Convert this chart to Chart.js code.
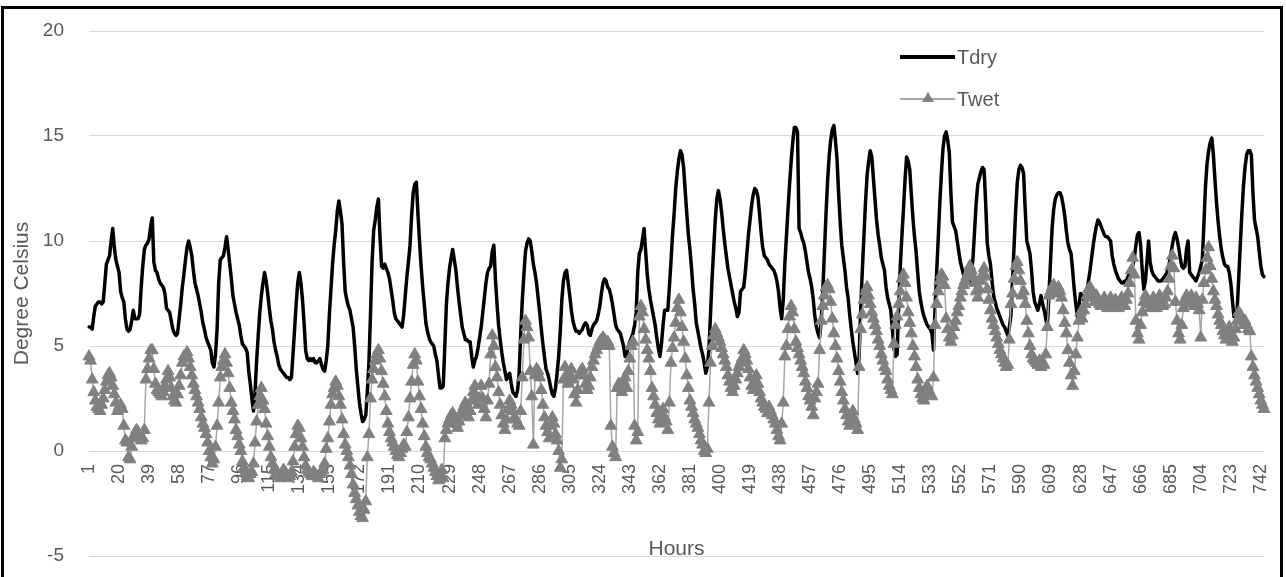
<!DOCTYPE html>
<html>
<head>
<meta charset="utf-8">
<script src="https://cdn.jsdelivr.net/npm/chart.js@4.4.0/dist/chart.umd.min.js"></script>
<style>
  html, body { margin: 0; padding: 0; background: #fff; }
  #wrap { position: relative; width: 1286px; height: 577px; overflow: hidden;
          font-family: 'Liberation Sans', Arial, sans-serif; color: #595959; }
  #frame { position: absolute; left: 1px; top: 6px; width: 1282px; height: 620px;
           border: 3px solid #000; box-sizing: border-box; pointer-events: none; }
  canvas { position: absolute; left: 0; top: 0; }
  .txt { position: absolute; font-size: 20px; line-height: 22px; white-space: nowrap; }
  .swatch { position: absolute; }
</style>
</head>
<body>
<div id="wrap">
  <canvas id="chart" width="1286" height="577"></canvas>

  <!-- legend, drawn inside the plot like the original -->
  <div class="swatch" style="left:900px; top:55px; width:55px; height:4px; background:#000;"></div>
  <div class="txt" style="left:957px; top:46px;">Tdry</div>
  <div class="swatch" style="left:900px; top:98px; width:55px; height:2px; background:#a6a6a6;"></div>
  <div class="swatch" style="left:922px; top:92px; width:0; height:0; border-left:6px solid transparent; border-right:6px solid transparent; border-bottom:10px solid #808080;"></div>
  <div class="txt" style="left:957px; top:88px;">Twet</div>

  <div class="txt" style="left:89px; width:1175px; top:537px; text-align:center; font-size:21px;">Hours</div>
  <div id="frame"></div>
</div>

<script>
const corTexto = '#595959';
const corGrade = '#d9d9d9';
const invisivel = 'rgba(0,0,0,0)';

// eixo x: horas do mês
const hours = Array.from({ length: 744 }, (_, i) => String(i + 1));
const labelEvery = 19;
const yTicks = [-5, 0, 5, 10, 15, 20];

// temperatura seca (uma linha por dia)
const tdry = [
  5.9,5.9,5.8,6.4,6.9,7.0,7.1,7.1,7.0,7.1,8.0,8.9,9.1,9.3,10.0,10.6,9.7,9.1,8.8,8.5,7.6,7.3,7.1,6.3,
  5.8,5.7,5.8,6.2,6.7,6.3,6.3,6.3,6.5,7.8,8.8,9.6,9.8,9.9,10.1,10.7,11.1,9.0,8.6,8.5,8.2,8.0,7.9,7.8,
  7.5,6.8,6.7,6.6,6.2,5.8,5.6,5.5,5.6,6.3,7.0,7.8,8.4,9.1,9.7,10.0,9.7,9.3,8.6,8.0,7.7,7.4,7.0,6.6,
  6.1,5.8,5.4,5.2,5.0,4.8,4.2,4.0,4.6,5.8,8.0,9.1,9.2,9.3,9.7,10.2,9.6,8.9,8.2,7.4,7.0,6.6,6.3,6.0,
  5.5,5.1,5.0,4.9,4.7,3.8,3.2,2.5,1.9,2.8,4.3,5.5,6.6,7.4,8.0,8.5,8.1,7.5,6.8,6.2,5.8,5.2,4.8,4.5,
  4.1,3.9,3.8,3.7,3.6,3.5,3.5,3.4,3.5,4.6,5.8,7.0,8.0,8.5,8.0,7.2,6.1,4.8,4.4,4.3,4.4,4.3,4.4,4.2,
  4.2,4.3,4.4,4.1,3.9,3.8,4.3,5.0,6.5,7.7,8.9,9.8,10.5,11.4,11.9,11.4,10.8,9.0,7.6,7.2,6.9,6.7,6.3,5.9,
  5.0,3.9,3.1,2.3,1.8,1.4,1.5,1.7,2.8,4.2,6.5,9.0,10.5,11.0,11.6,12.0,10.2,8.8,8.7,8.9,8.7,8.5,8.2,7.7,
  7.2,6.6,6.3,6.2,6.1,6.0,5.9,6.5,7.4,8.3,9.0,9.8,11.2,12.3,12.7,12.8,11.3,10.0,8.8,7.8,7.0,6.1,5.7,5.4,
  5.2,5.1,5.0,4.6,4.3,3.6,3.0,3.0,3.1,5.0,7.0,8.0,8.7,9.2,9.6,9.1,8.6,7.8,7.1,6.5,5.9,5.6,5.3,5.3,
  5.2,5.2,4.5,4.0,4.3,4.5,4.9,5.4,5.9,6.6,7.3,8.0,8.5,8.7,8.8,9.5,9.8,8.2,7.0,6.0,5.3,4.7,4.2,3.8,
  3.4,3.6,3.7,3.2,2.8,2.7,2.6,2.9,3.7,5.6,7.2,8.4,9.5,9.9,10.1,10.0,9.5,8.9,8.5,8.0,7.3,6.6,5.8,5.1,
  4.5,3.9,3.7,3.4,3.0,2.7,2.6,3.0,3.7,4.5,5.7,7.2,8.1,8.5,8.6,8.0,7.4,6.7,6.2,5.9,5.7,5.7,5.6,5.7,
  5.8,6.0,6.1,6.0,5.6,5.5,5.8,6.0,6.1,6.2,6.5,6.9,7.5,8.0,8.2,8.1,7.8,7.7,7.4,7.0,6.5,6.0,5.8,5.7,
  5.6,5.3,5.0,4.5,4.6,5.0,5.2,5.4,5.6,6.0,6.6,8.5,9.4,9.6,10.1,10.6,9.5,8.4,7.7,7.2,6.8,6.4,6.0,5.4,
  4.9,4.5,5.1,6.0,6.7,6.7,6.7,7.8,9.0,10.3,11.3,12.5,13.3,13.9,14.3,14.1,13.5,12.4,11.3,10.3,9.6,8.7,7.7,7.0,
  6.1,5.7,5.3,4.9,4.6,4.2,3.7,4.0,4.8,6.5,8.2,9.6,11.0,12.0,12.4,12.0,11.4,10.6,9.9,9.3,8.7,8.3,7.9,7.5,
  7.1,6.8,6.4,6.6,7.6,7.7,7.8,8.5,9.4,10.3,11.0,11.7,12.2,12.5,12.4,12.1,11.3,10.4,9.7,9.3,9.2,9.1,8.9,8.8,
  8.7,8.6,8.4,8.1,7.6,6.8,6.3,7.2,8.9,10.2,11.5,12.7,13.8,14.7,15.4,15.4,15.2,10.6,10.4,10.1,9.9,9.5,9.0,8.5,
  8.2,7.8,7.2,6.4,5.9,5.6,5.4,6.2,7.6,9.4,11.2,12.8,14.0,14.8,15.3,15.5,14.8,13.9,12.3,10.9,9.8,9.2,8.6,7.8,
  7.3,6.5,5.8,5.2,4.7,4.2,3.7,4.5,6.8,8.6,10.2,11.8,13.1,13.8,14.3,14.0,13.0,12.0,11.0,10.3,9.8,9.2,8.9,8.6,
  7.8,7.3,7.0,6.7,5.8,4.9,4.5,4.6,6.9,8.8,10.2,11.5,12.9,14.0,13.8,13.4,12.2,11.1,10.2,9.5,8.5,7.6,7.1,6.7,
  6.4,6.2,6.0,5.9,5.8,5.6,4.8,6.8,8.5,10.1,11.8,13.2,14.4,15.0,15.2,14.8,14.2,12.3,10.9,10.7,10.5,10.0,9.5,9.0,
  8.7,8.4,8.1,8.0,8.0,8.1,8.5,9.2,10.5,11.8,12.7,13.0,13.3,13.5,13.4,11.8,9.9,9.3,8.9,8.1,7.4,7.1,6.8,6.6,
  6.4,6.2,6.0,5.9,5.7,5.5,5.9,6.5,8.2,9.8,11.5,12.8,13.4,13.6,13.5,13.2,11.5,10.0,9.7,9.4,8.6,7.6,7.1,6.9,
  6.7,7.0,7.4,7.0,6.7,6.3,5.9,7.4,9.0,10.6,11.5,12.0,12.2,12.3,12.3,12.1,11.7,11.2,10.5,9.9,9.6,9.4,8.6,7.7,
  7.0,6.4,6.9,7.5,7.4,7.2,7.1,7.5,8.1,8.6,9.2,9.8,10.3,10.7,11.0,10.9,10.7,10.5,10.3,10.2,10.2,10.1,10.0,9.3,
  8.9,8.6,8.4,8.2,8.1,8.0,8.0,8.1,8.1,8.3,8.5,8.6,8.8,9.2,9.8,10.3,10.4,9.8,8.6,7.7,8.1,9.0,10.0,9.0,
  8.6,8.4,8.3,8.2,8.1,8.1,8.1,8.2,8.3,8.4,8.6,8.9,9.3,9.8,10.2,10.4,10.1,9.7,9.2,8.8,8.7,8.8,9.6,10.0,
  8.5,8.4,8.3,8.2,8.1,8.3,8.5,8.8,9.1,10.8,12.6,13.7,14.3,14.7,14.9,14.1,12.9,11.8,10.9,10.2,9.6,9.2,8.9,8.8,
  8.8,8.5,8.0,7.2,6.4,6.5,6.7,8.2,9.8,11.3,12.6,13.5,14.1,14.3,14.3,14.1,12.3,11.0,10.6,10.2,9.5,8.8,8.4,8.3
];

// temperatura de bulbo úmido
const twet = [
  4.5,4.3,3.4,2.8,2.4,2.1,2.0,1.9,2.2,2.5,2.9,3.3,3.6,3.7,3.5,3.1,2.7,2.3,1.9,2.1,2.2,2.0,1.2,0.5,
  0.4,-0.3,-0.4,0.2,0.6,0.8,1.0,0.9,0.7,0.5,0.6,1.0,3.4,3.9,4.4,4.8,4.8,3.9,3.2,2.9,2.8,2.7,2.6,2.8,
  3.1,3.4,3.8,3.5,3.0,2.6,2.4,2.3,2.7,3.1,3.6,4.2,4.5,4.4,4.7,4.4,4.0,3.6,3.2,2.9,2.6,2.3,2.0,1.6,
  1.3,1.1,0.8,0.4,0.0,-0.3,-0.6,-0.4,0.2,1.2,2.3,3.5,4.0,4.3,4.6,4.2,3.7,3.0,2.3,1.9,1.5,1.0,0.7,0.3,
  0.0,-0.5,-0.8,-1.0,-1.2,-1.3,-1.1,-1.0,-0.6,0.4,1.4,2.2,2.6,3.0,2.4,2.0,1.3,0.7,0.2,-0.3,-0.6,-0.9,-1.1,-1.0,
  -1.2,-1.3,-1.1,-0.9,-1.0,-1.2,-1.3,-1.2,-1.0,-0.5,0.2,0.8,1.2,1.1,0.6,0.2,-0.3,-0.7,-0.9,-1.0,-1.1,-1.2,-1.0,-1.1,
  -1.2,-1.3,-1.1,-1.0,-0.9,-0.6,0.1,0.6,1.4,2.2,2.7,3.0,3.3,3.1,2.6,2.2,1.5,0.8,0.3,0.0,-0.3,-0.7,-1.1,-1.6,
  -2.0,-2.3,-2.6,-2.9,-3.1,-3.2,-2.8,-2.4,-0.3,0.8,2.5,3.4,3.9,4.3,4.6,4.8,4.4,3.8,3.2,2.6,1.9,1.3,0.9,0.6,
  0.4,0.2,0.0,-0.2,-0.3,-0.1,0.1,0.3,0.2,0.9,1.6,2.5,3.3,4.1,4.6,4.3,3.3,2.6,2.0,1.3,0.7,0.2,-0.1,-0.3,
  -0.4,-0.6,-0.8,-1.0,-1.2,-1.4,-1.1,-0.9,-1.3,0.6,1.0,1.3,1.5,1.7,1.8,1.6,1.3,1.1,1.4,1.7,1.9,2.1,2.3,2.0,
  1.6,1.9,2.4,2.8,3.1,2.6,2.2,2.5,3.1,2.5,2.0,1.6,2.4,3.2,4.6,5.5,5.0,4.0,3.5,2.8,2.2,1.7,1.3,1.0,
  1.5,2.0,2.4,2.2,1.9,1.6,1.5,1.3,1.2,1.9,3.5,5.3,6.2,5.9,5.4,3.8,2.6,0.3,3.6,3.9,3.8,3.5,2.9,2.2,
  1.6,1.2,0.9,0.6,1.2,1.6,1.3,0.8,0.5,0.0,-0.8,-0.4,3.4,4.0,3.6,3.2,3.5,3.9,3.4,2.7,2.3,2.9,3.6,3.8,
  3.9,3.6,3.2,2.9,3.1,3.5,4.0,4.3,4.6,4.8,5.0,5.2,5.3,5.4,5.3,5.1,5.2,5.0,1.2,0.2,-0.1,-0.3,3.0,3.2,
  3.0,2.8,3.3,3.5,3.0,3.8,4.4,5.0,5.2,1.2,0.5,0.9,6.4,6.9,6.6,5.8,5.3,4.8,4.4,3.8,3.0,2.6,2.2,1.8,
  1.5,1.3,1.7,2.0,1.6,1.4,1.0,2.3,4.2,4.9,5.4,6.1,6.8,7.2,6.6,5.9,5.2,4.4,3.6,3.0,2.4,2.1,1.8,1.5,
  1.3,1.1,0.8,0.5,0.3,0.0,-0.1,0.1,2.3,4.2,5.0,5.5,5.8,5.6,5.4,5.2,4.9,4.6,4.3,4.0,3.6,3.3,3.0,2.8,
  3.1,3.4,3.7,4.0,4.2,4.4,4.8,4.6,4.3,3.9,3.5,3.1,2.9,3.3,3.6,3.2,2.8,2.5,2.3,2.1,2.0,1.8,2.1,1.9,
  1.7,1.5,1.3,1.0,0.7,0.5,1.3,2.3,4.5,5.0,5.8,6.4,6.9,6.6,5.8,5.2,4.9,4.6,4.3,4.0,3.7,3.3,3.0,2.6,
  2.4,2.1,1.7,2.5,2.8,3.2,4.8,6.2,6.9,7.4,7.8,7.9,7.7,7.1,6.3,5.6,5.0,4.4,3.8,3.3,2.8,2.4,2.0,1.7,
  1.4,1.2,1.6,1.9,1.5,1.3,1.0,4.0,5.8,6.5,7.2,7.6,7.8,7.4,7.0,6.6,6.3,6.0,5.7,5.3,5.0,4.6,4.3,4.0,
  3.8,3.4,3.1,2.9,2.7,5.1,6.0,6.4,7.0,7.6,8.2,8.4,8.0,7.3,6.6,6.1,5.6,5.0,4.5,4.0,3.4,3.0,2.7,2.5,
  2.4,2.8,3.1,2.9,2.7,2.6,3.5,6.0,7.0,7.6,8.1,8.4,8.3,7.9,6.3,5.8,5.4,5.2,5.5,5.9,6.2,6.6,6.9,7.3,
  7.6,7.9,8.1,8.3,8.5,8.8,8.6,8.3,8.0,7.6,7.3,7.7,8.1,8.4,8.7,8.3,7.7,7.2,6.7,6.3,6.0,5.7,5.4,5.1,
  4.8,4.6,4.4,4.2,4.0,4.1,5.3,7.0,7.5,8.2,8.8,9.0,8.6,8.1,7.4,7.6,7.0,6.2,5.6,5.0,4.6,4.4,4.3,4.2,
  4.1,4.3,4.0,4.2,4.1,4.6,5.9,7.4,7.6,7.8,7.9,7.7,7.5,7.8,7.6,7.3,6.7,6.1,5.6,4.8,4.2,3.6,3.1,3.8,
  4.6,5.4,6.2,6.6,6.3,6.7,7.0,7.4,7.7,7.8,7.6,7.3,7.1,7.4,7.2,7.0,6.9,7.1,7.3,7.0,6.8,7.1,7.3,7.0,
  6.9,7.2,7.0,6.8,7.1,7.3,7.0,6.9,7.2,7.5,8.0,8.6,9.2,8.4,6.2,5.6,5.3,6.0,6.6,7.1,7.4,7.2,7.0,6.8,
  7.1,7.3,7.0,6.8,7.2,7.4,7.1,6.9,7.0,7.3,7.6,8.2,8.8,9.3,8.7,7.1,6.2,5.6,5.3,6.0,6.8,7.2,7.4,7.0,
  7.2,7.4,7.1,6.9,7.3,7.0,6.7,5.4,7.2,8.0,8.6,9.2,9.7,8.8,8.2,7.6,7.2,6.9,6.5,6.2,6.0,5.7,5.5,5.3,
  5.6,5.9,5.6,5.2,5.4,5.8,6.2,6.6,6.5,6.3,6.0,6.2,6.0,5.8,5.7,4.5,4.0,3.6,3.3,3.0,2.7,2.4,2.2,2.0
];

const familia = "'Liberation Sans', Arial, sans-serif";

new Chart(document.getElementById('chart'), {
  type: 'line',
  data: {
    labels: hours,
    datasets: [
      {
        label: 'Tdry',
        data: tdry,
        borderColor: '#000000',
        borderWidth: 3.5,
        borderJoinStyle: 'round',
        borderCapStyle: 'round',
        pointRadius: 0,
        tension: 0,
        order: 2
      },
      {
        label: 'Twet',
        data: twet,
        borderColor: '#a6a6a6',
        borderWidth: 1.5,
        pointStyle: 'triangle',
        pointRadius: 6.8,
        pointBackgroundColor: '#808080',
        pointBorderColor: '#808080',
        pointBorderWidth: 1,
        tension: 0,
        order: 1
      }
    ]
  },
  options: {
    responsive: false,
    animation: false,
    layout: { padding: { top: 31, bottom: 21, left: 0, right: 22 } },
    plugins: {
      legend: { display: false },
      tooltip: { enabled: false }
    },
    scales: {
      x: {
        position: { y: 0 },
        offset: false,
        // marcas invisíveis só para afastar os rótulos do zero
        grid: { display: true, color: invisivel, drawTicks: true, tickLength: 13, tickColor: invisivel },
        border: { display: false },
        ticks: {
          autoSkip: false,
          minRotation: 90,
          maxRotation: 90,
          padding: 0,
          color: corTexto,
          font: { family: familia, size: 18 },
          callback: (v, i) => (i % labelEvery === 0 ? hours[i] : null)
        },
        afterFit: (s) => { s.height = 0; }
      },
      y: {
        min: yTicks[0],
        max: yTicks[yTicks.length - 1],
        ticks: { stepSize: 5, padding: 0, color: corTexto, font: { family: familia, size: 19 } },
        grid: { color: corGrade, drawTicks: true, tickLength: 25, tickColor: invisivel },
        border: { display: false },
        title: {
          display: true,
          text: 'Degree Celsius',
          color: corTexto,
          font: { family: familia, size: 21 },
          padding: { top: 10, bottom: 0 }
        },
        afterFit: (s) => { s.width = 89; }
      }
    }
  }
});
</script>
</body>
</html>
